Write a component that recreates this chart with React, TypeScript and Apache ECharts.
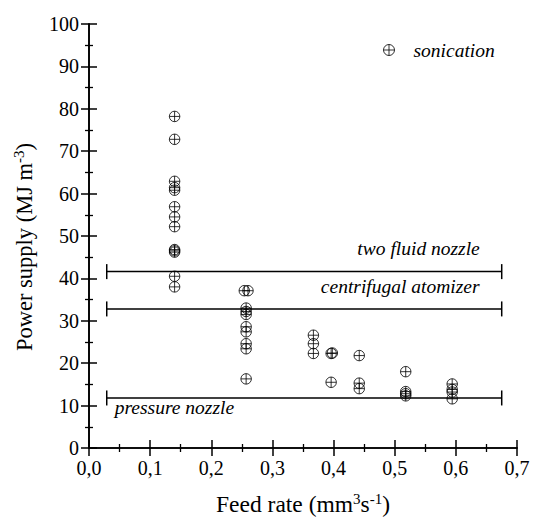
import React, { useEffect, useRef } from "react";
import * as echarts from "echarts";

// Sonication data: feed rate (mm^3 s^-1) vs power supply (MJ m^-3)
const feedRate: number[] = [
  0.14, 0.14, 0.14, 0.14, 0.14, 0.14, 0.14, 0.14, 0.14, 0.14, 0.14, 0.14, 0.14,
  0.254, 0.26, 0.257, 0.257, 0.257, 0.257, 0.257, 0.257, 0.257, 0.257,
  0.367, 0.367, 0.367,
  0.396, 0.398, 0.396,
  0.442, 0.442, 0.442,
  0.518, 0.518, 0.518, 0.518,
  0.594, 0.594, 0.594, 0.594,
];
const powerSupply: number[] = [
  78.2, 72.8, 62.9, 61.4, 60.8, 56.9, 54.5, 52.2, 46.8, 46.5, 46.2, 40.5, 38.0,
  37.1, 37.1, 33.0, 32.2, 31.5, 28.6, 27.4, 24.6, 23.4, 16.3,
  26.6, 24.6, 22.3,
  22.3, 22.4, 15.5,
  21.8, 15.3, 14.0,
  18.0, 13.3, 12.8, 12.3,
  15.1, 13.8, 13.2, 11.6,
];

// Reference ranges of conventional atomizers
const nozzleNames: string[] = ["two fluid nozzle", "centrifugal atomizer", "pressure nozzle"];
const nozzlePower: number[] = [41.6, 32.8, 11.8];
const nozzleRange: number[] = [0.029, 0.675];

const xTicks = { min: 0, max: 0.7, interval: 0.1 };
const yTicks = { min: 0, max: 100, interval: 10 };

const SERIF = "Liberation Serif";
const markerPath =
  "path://M0,-10 A10,10 0 1,1 0,10 A10,10 0 1,1 0,-10 Z M-10,0 L10,0 M0,-10 L0,10";

export default function App() {
  const ref = useRef<HTMLDivElement>(null);
  useEffect(() => {
    if (!ref.current) return;
    const chart = echarts.init(ref.current, undefined, { renderer: "svg" });
    const axisLine = { show: true, lineStyle: { color: "#000", width: 1.6 } };
    const tick = { show: true, inside: false, length: 8, lineStyle: { color: "#000", width: 1.5 } };
    const minorTick = { show: true, splitNumber: 2, length: 4, lineStyle: { color: "#000", width: 1.3 } };

    const labelCfg: any[] = [
      { x: 0.539, label: { position: "top", distance: 13 } },
      { x: 0.509, label: { position: "top", distance: 12 } },
      { x: 0.029, label: { position: [8, 0], align: "left", verticalAlign: "top" } },
    ];

    const nozzleSeries = nozzleNames.map((name, i) => ({
      type: "line",
      name,
      data: nozzleRange.map((x) => [x, nozzlePower[i]]),
      symbol: "rect",
      symbolSize: [1.5, 15],
      showSymbol: true,
      itemStyle: { color: "#000" },
      lineStyle: { color: "#000", width: 1.5 },
      silent: true,
      z: 2,
      markPoint: {
        symbol: "circle",
        symbolSize: 0,
        silent: true,
        data: [
          {
            coord: [labelCfg[i].x, nozzlePower[i]],
            label: {
              show: true,
              formatter: name,
              fontFamily: SERIF,
              fontStyle: "italic",
              fontSize: 19.5,
              color: "#000",
              textBorderWidth: 0,
              ...labelCfg[i].label,
            },
          },
        ],
      },
    }));

    const supRich = {
      sup: { fontFamily: SERIF, fontSize: 15, color: "#000", verticalAlign: "top", padding: [0, 0, 11, 0] },
    };

    chart.setOption({
      animation: false,
      backgroundColor: "#fff",
      textStyle: { fontFamily: SERIF },
      grid: { left: 89, right: 17, top: 24, bottom: 67, containLabel: false },
      legend: {
        data: [{ name: "sonication", icon: markerPath }],
        top: 35,
        left: 376,
        itemWidth: 11,
        itemHeight: 11,
        textStyle: { fontFamily: SERIF, fontStyle: "italic", fontSize: 19.5, color: "#000", padding: [0, 0, 0, 14] },
        itemStyle: { color: "none", borderColor: "#000", borderWidth: 1 },
      },
      xAxis: [
        {
          type: "value",
          position: "bottom",
          ...xTicks,
          axisLine,
          axisTick: tick,
          minorTick,
          splitLine: { show: false },
          axisLabel: {
            fontFamily: SERIF,
            fontSize: 20,
            color: "#000",
            margin: 10,
            formatter: (v: number) => v.toFixed(1).replace(".", ","),
          },
          name: "Feed rate (mm{sup|3}s{sup|-1})",
          nameLocation: "middle",
          nameGap: 43,
          nameTextStyle: { fontFamily: SERIF, fontSize: 23.5, color: "#000", rich: supRich },
        },
        {
          type: "value",
          position: "top",
          ...xTicks,
          axisLine,
          axisTick: tick,
          minorTick,
          splitLine: { show: false },
          axisLabel: { show: false },
        },
      ],
      yAxis: [
        {
          type: "value",
          position: "left",
          ...yTicks,
          axisLine,
          axisTick: tick,
          minorTick,
          splitLine: { show: false },
          axisLabel: { fontFamily: SERIF, fontSize: 20, color: "#000", margin: 10 },
          name: "Power supply (MJ m{sup|-3})",
          nameLocation: "middle",
          nameGap: 52,
          nameTextStyle: { fontFamily: SERIF, fontSize: 22.5, color: "#000", rich: supRich, padding: [0, 22, 0, 0] },
        },
        {
          type: "value",
          position: "right",
          ...yTicks,
          axisLine,
          axisTick: tick,
          minorTick,
          splitLine: { show: false },
          axisLabel: { show: false },
        },
      ],
      series: [
        ...nozzleSeries,
        {
          type: "scatter",
          name: "sonication",
          data: feedRate.map((x, i) => [x, powerSupply[i]]),
          symbol: markerPath,
          symbolSize: 10.5,
          itemStyle: { color: "none", borderColor: "#000", borderWidth: 1 },
          z: 3,
        },
      ],
    });
    return () => chart.dispose();
  }, []);
  return (
    <div
      ref={ref}
      style={{ position: "absolute", left: 0, top: 0, width: 534, height: 521, background: "#fff" }}
    />
  );
}
